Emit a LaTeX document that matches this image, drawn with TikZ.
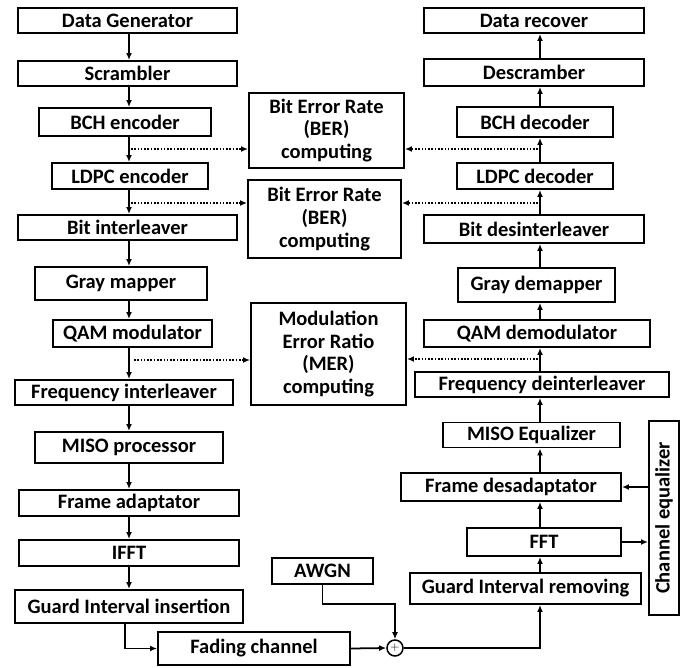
\documentclass[tikz,border=0pt]{standalone}
\usepackage{fontspec}
\setmainfont{Carlito}
\usepackage{tikz}
\usetikzlibrary{arrows.meta}
\usetikzlibrary{positioning, shapes.geometric}
\tikzset{
block/.style = { rectangle, draw = black, fill = white, line width = 1.6pt, inner sep = 0pt, font = \fontsize{17.5}{19.5}\selectfont\bfseries },
meas box/.style = { block, align = center },
sum node/.style = { circle, draw = black, line width = 1.3pt, inner sep = 0pt, minimum size = 0.48cm, font = \normalsize },
data arrow/.style = { line width = 1.5pt, -{Latex[length = 6pt, width = 5pt]} },
meas arrow/.style = { data arrow, dash pattern = on 1.4pt off 1.4pt },
}

\begin{document}
\begin{tikzpicture}[x = 0.03cm, y = -0.03cm]
      \useasboundingbox (0, 0) rectangle (697, 667);
      % transmitter
      \node[block, minimum width = 6.57cm, minimum height = 0.75cm] (dgen) at (127.5, 20.5) {Data Generator};
      \node[block, minimum width = 6.57cm, minimum height = 0.75cm] (scr) at (127.5, 73.5) {Scrambler};
      \node[block, minimum width = 5.16cm, minimum height = 0.84cm] (bche) at (125, 122) {BCH encoder};
      \node[block, minimum width = 4.68cm, minimum height = 0.78cm] (ldpce) at (130, 176) {LDPC encoder};
      \node[block, minimum width = 6.57cm, minimum height = 0.75cm] (bitil) at (127.5, 227.5) {Bit interleaver};
      \node[block, minimum width = 5.16cm, minimum height = 0.99cm] (gmap) at (121, 283.5) {Gray mapper};
      \node[block, minimum width = 4.77cm, minimum height = 0.81cm] (qamm) at (132.5, 333.5) {QAM modulator};
      \node[block, minimum width = 6.54cm, minimum height = 0.75cm] (fil) at (124, 392.5) {Frequency interleaver};
      \node[block, minimum width = 5.64cm, minimum height = 0.93cm] (miso) at (129, 447.5) {MISO processor};
      \node[block, minimum width = 6.6cm, minimum height = 0.78cm] (fada) at (129, 503) {Frame adaptator};
      \node[block, minimum width = 6.6cm, minimum height = 0.78cm] (ifft) at (129, 553) {IFFT};
      \node[block, minimum width = 6.84cm, minimum height = 0.99cm] (giins) at (129, 606.5) {Guard Interval insertion};
      % channel
      \node[block, minimum width = 5.76cm, minimum height = 0.99cm] (fading) at (254, 648.5) {Fading channel};
      \node[block, minimum width = 3.03cm, minimum height = 0.78cm] (awgn) at (322.5, 571) {AWGN};
      \node[sum node] (sum) at (395, 648) {$+$};
      % receiver
      \node[block, minimum width = 6.6cm, minimum height = 0.75cm] (drec) at (534, 20.5) {Data recover};
      \node[block, minimum width = 6.6cm, minimum height = 0.81cm] (dscr) at (534, 72.5) {Descramber};
      \node[block, minimum width = 4.68cm, minimum height = 0.9cm] (bchd) at (535, 122) {BCH decoder};
      \node[block, minimum width = 4.68cm, minimum height = 0.78cm] (ldpcd) at (535, 176) {LDPC decoder};
      \node[block, minimum width = 6.6cm, minimum height = 0.84cm] (bitdil) at (534, 229) {Bit desinterleaver};
      \node[block, minimum width = 4.71cm, minimum height = 1.02cm] (gdem) at (536.5, 285) {Gray demapper};
      \node[block, minimum width = 6.78cm, minimum height = 0.81cm] (qamd) at (537, 333.5) {QAM demodulator};
      \node[block, minimum width = 7.62cm, minimum height = 0.75cm] (fdil) at (542, 384.5) {Frequency deinterleaver};
      \node[block, minimum width = 5.31cm, minimum height = 0.75cm] (misoeq) at (531.5, 435) {MISO Equalizer};
      \node[block, minimum width = 6.6cm, minimum height = 0.84cm] (fdes) at (511, 487) {Frame desadaptator};
      \node[block, minimum width = 4.62cm, minimum height = 0.84cm] (fft) at (544, 542) {FFT};
      \node[block, minimum width = 6.93cm, minimum height = 0.93cm] (girem) at (525.5, 588.5) {Guard Interval removing};
      \node[block, rotate = 90, minimum width = 5.82cm, minimum height = 0.9cm] (cheq) at (664, 518) {Channel equalizer};
      % measurements
      \node[meas box, minimum width = 4.65cm, minimum height = 2.25cm] (ber1) at (326.5, 130.5) {Bit Error Rate\\(BER)\\computing};
      \node[meas box, minimum width = 4.59cm, minimum height = 2.34cm] (ber2) at (324.5, 219) {Bit Error Rate\\(BER)\\computing};
      \node[meas box, minimum width = 4.65cm, minimum height = 3.06cm] (mer) at (328.5, 354) {Modulation\\Error Ratio\\(MER)\\computing};

      \coordinate (lt) at (129, 0);
      \coordinate (rt) at (540, 0);
      \foreach \a/\b in {dgen/scr, scr/bche, bche/ldpce, ldpce/bitil, bitil/gmap, gmap/qamm, qamm/fil, fil/miso, miso/fada, fada/ifft, ifft/giins}
        \draw[data arrow] (\a.south -| lt) -- (\b.north -| lt);
      \foreach \a/\b in {dscr/drec, bchd/dscr, ldpcd/bchd, bitdil/ldpcd, gdem/bitdil, qamd/gdem, fdil/qamd, misoeq/fdil, fdes/misoeq, fft/fdes, girem/fft}
        \draw[data arrow] (\a.north -| rt) -- (\b.south -| rt);

      \draw[data arrow] (giins.south -| 125, 0) |- (fading.west);
      \draw[data arrow] (fading.east) -- (sum.west);
      \draw[data arrow] (awgn.south) -- ++(0, 19) -| (sum.north);
      \draw[data arrow] (sum.east) -| (girem.south -| rt);
      \draw[data arrow] (fft.east) -- (fft.east -| cheq.north);
      \draw[data arrow] (fdes.east -| cheq.north) -- (fdes.east);

      % dotted taps
      \coordinate (tl1) at (131, 149);
      \coordinate (tl2) at (131, 203);
      \coordinate (tl3) at (134, 360);
      \coordinate (tr1) at (538, 149);
      \coordinate (tr2) at (538, 203);
      \coordinate (tr3) at (538, 359);
      \draw[meas arrow] (tl1) -- (tl1 -| ber1.west);
      \draw[meas arrow] (tl2) -- (tl2 -| ber2.west);
      \draw[meas arrow] (tl3) -- (tl3 -| mer.west);
      \draw[meas arrow] (tr1) -- (tr1 -| ber1.east);
      \draw[meas arrow] (tr2) -- (tr2 -| ber2.east);
      \draw[meas arrow] (tr3) -- (tr3 -| mer.east);
\end{tikzpicture}
\end{document}
